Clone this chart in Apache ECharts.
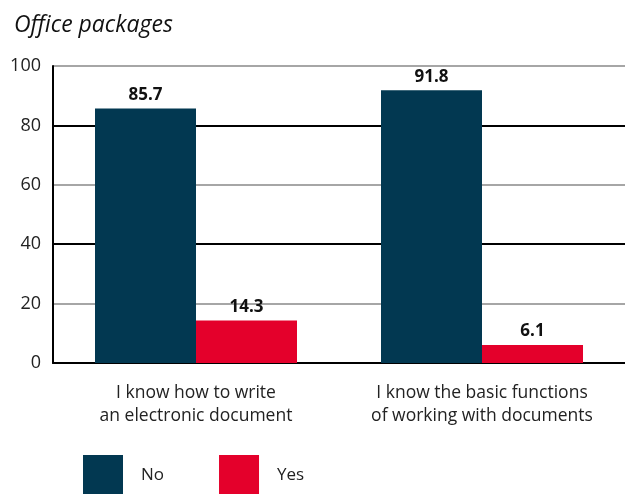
<!DOCTYPE html>
<html>
<head>
<meta charset="utf-8">
<script src="https://cdn.jsdelivr.net/npm/echarts@6/dist/echarts.min.js"></script>
<style>
  html, body { margin: 0; padding: 0; background: #fff; }
  #chart { width: 625px; height: 494px; }
</style>
</head>
<body>
<div id="chart"></div>
<script>
const categories = ['I know how to write\nan electronic document', 'I know the basic functions\nof working with documents'];
const noValues = [85.7, 91.8];
const yesValues = [14.3, 6.1];

const font = 'Open Sans';
const chart = echarts.init(document.getElementById('chart'));

const barLabel = {
  show: true,
  position: 'top',
  distance: 5,
  color: '#111',
  fontSize: 17,
  fontWeight: 'bold',
  fontFamily: font
};

chart.setOption({
  animation: false,
  title: {
    text: 'Office packages',
    left: 9,
    top: 9,
    textStyle: { fontFamily: font, fontStyle: 'italic', fontWeight: 'normal', fontSize: 23, color: '#111' }
  },
  grid: { left: 53, right: 0, top: 66, bottom: 131 },
  legend: {
    left: 78,
    top: 450,
    itemWidth: 40,
    itemHeight: 40,
    itemGap: 55,
    icon: 'rect',
    textStyle: { fontFamily: font, fontSize: 17, color: '#222', padding: [0, 0, 0, 13] },
    data: ['No', 'Yes']
  },
  xAxis: {
    type: 'category',
    data: categories,
    axisLine: { show: true, lineStyle: { color: '#000', width: 2 } },
    axisTick: { show: false },
    axisLabel: { interval: 0, hideOverlap: false, color: '#222', fontFamily: font, fontSize: 17.5, lineHeight: 23, margin: 19 }
  },
  yAxis: {
    type: 'value',
    min: 0,
    max: 100,
    interval: 20,
    axisLine: { show: true, lineStyle: { color: '#000', width: 2 } },
    axisTick: { show: false },
    axisLabel: { color: '#222', fontFamily: font, fontSize: 18, margin: 12 },
    splitLine: { show: true, lineStyle: { color: ['#000', '#a6a6a6'], width: 2 } }
  },
  series: [
    {
      name: 'No',
      type: 'bar',
      data: noValues,
      barWidth: 101,
      barGap: '0%',
      itemStyle: { color: '#023851' },
      label: barLabel
    },
    {
      name: 'Yes',
      type: 'bar',
      data: yesValues,
      barWidth: 101,
      itemStyle: { color: '#e4002b' },
      label: barLabel
    }
  ]
});
</script>
</body>
</html>
